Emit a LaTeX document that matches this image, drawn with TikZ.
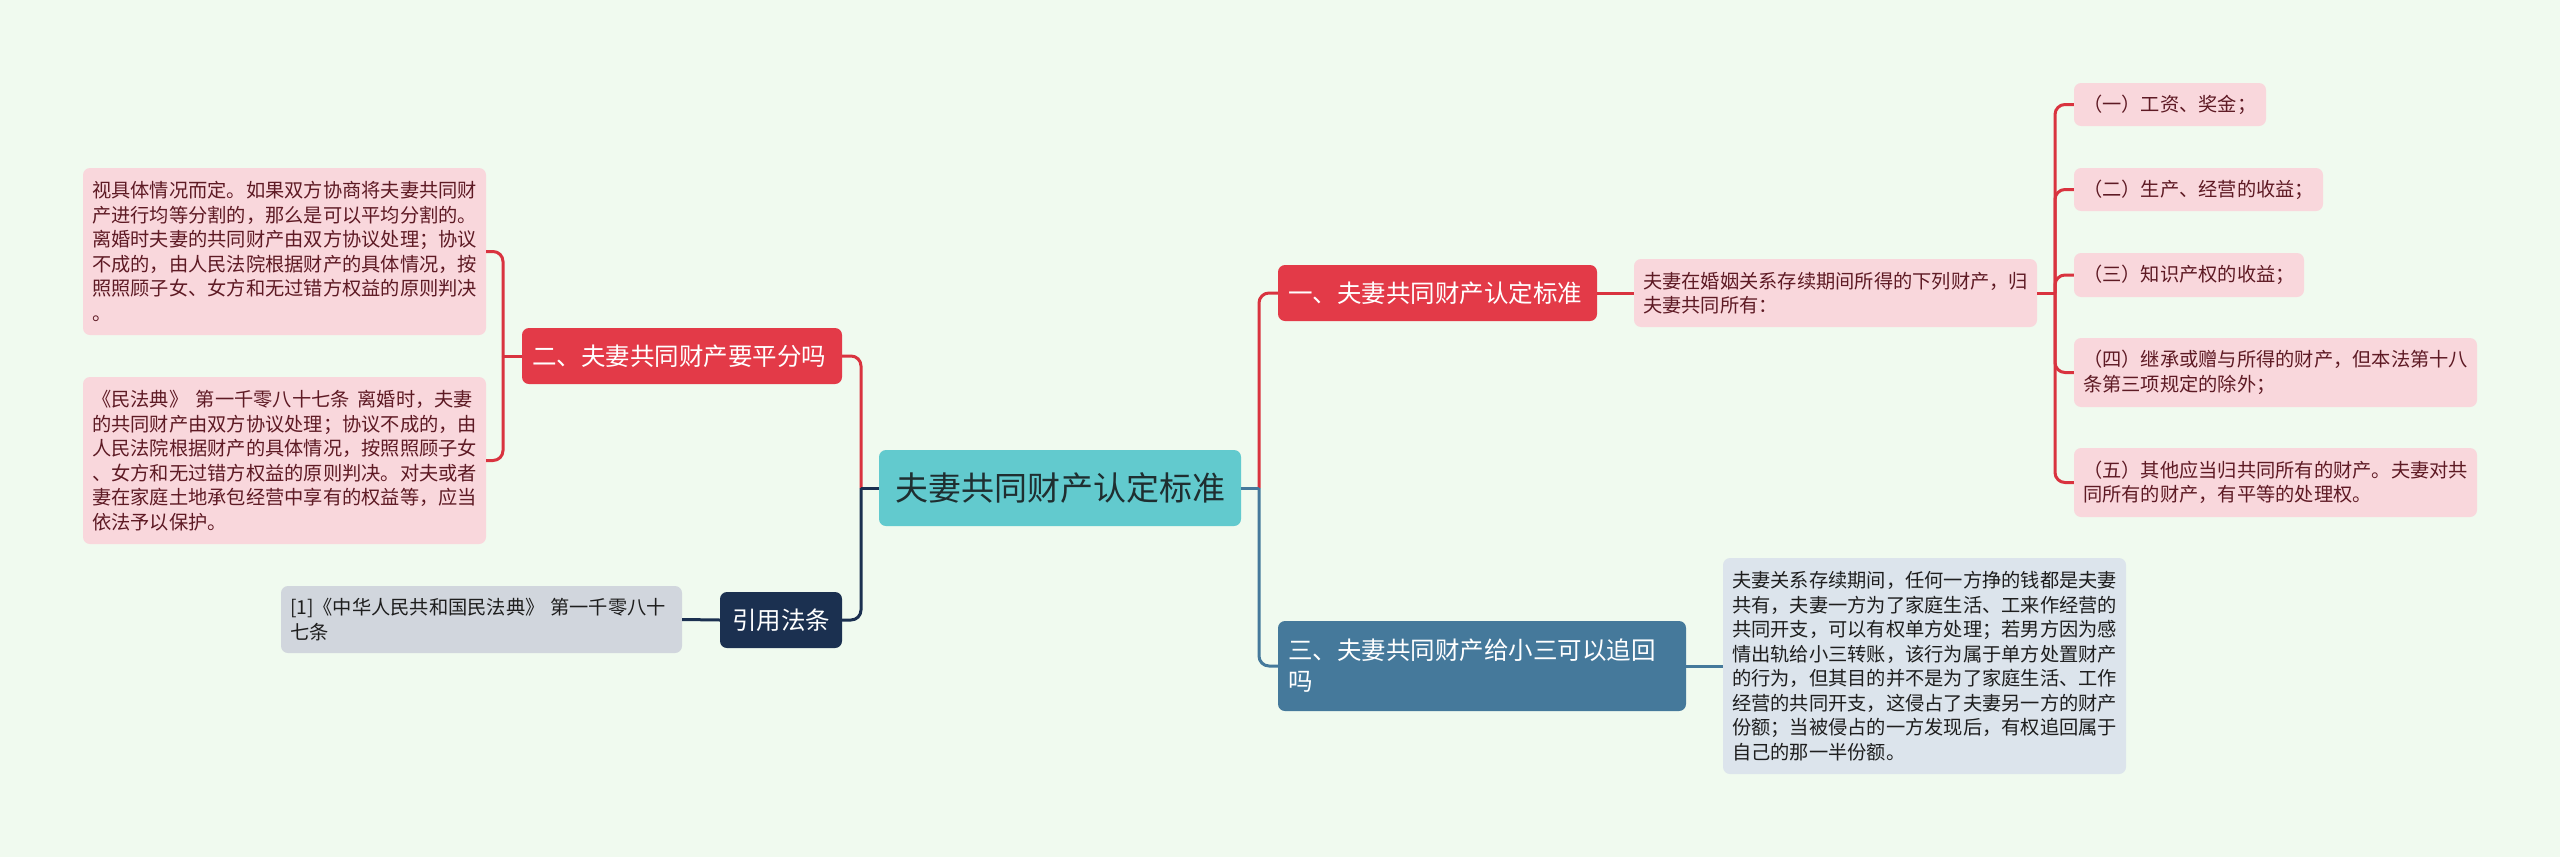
\documentclass[tikz,border=0pt]{standalone}
\usepackage{fontspec}
\setmainfont{Noto Sans CJK SC}
\definecolor{bgc}{HTML}{F0FAEF}
\definecolor{redc}{HTML}{E33A48}
\definecolor{redl}{HTML}{D9333F}
\definecolor{navyc}{HTML}{1B3050}
\definecolor{bluec}{HTML}{45799B}
\definecolor{rootf}{HTML}{62CACE}
\definecolor{roott}{HTML}{1F2E30}
\definecolor{pinkf}{HTML}{F9D7DC}
\definecolor{pinkt}{HTML}{5E1A24}
\definecolor{grayf}{HTML}{D1D6DD}
\definecolor{bluef}{HTML}{DCE4EC}
\definecolor{darkt}{HTML}{1E1E1E}
\tikzset{
  box/.style={rounded corners=7pt, inner sep=0pt, align=left},
  rootbox/.style={box, fill=rootf, text=roott, align=center, font=\fontsize{33pt}{38pt}\selectfont},
  mainbox/.style={box, text=white, font=\fontsize{24.5pt}{31pt}\selectfont},
  redbox/.style={mainbox, fill=redc},
  bluebox/.style={mainbox, fill=bluec},
  navybox/.style={mainbox, fill=navyc, align=center},
  leafbase/.style={box, font=\fontsize{19.25pt}{24.5pt}\selectfont},
  pleaf/.style={leafbase, fill=pinkf, text=pinkt},
  gleaf/.style={leafbase, fill=grayf, text=darkt},
  bleaf/.style={leafbase, fill=bluef, text=darkt},
  conn/.style={line width=3pt, rounded corners=10pt},
  cred/.style={conn, draw=redl},
  cnavy/.style={conn, draw=navyc},
  cblue/.style={conn, draw=bluec},
}
\begin{document}
\begin{tikzpicture}[x=1pt,y=-1pt]
\fill[bgc] (0,0) rectangle (2560,857);
\useasboundingbox (0,0) rectangle (2560,857);

% root and main branches
\node[rootbox, minimum width=362pt, minimum height=76pt] (root) at (1060,488) {夫妻共同财产认定标准};
\node[redbox, minimum width=319pt, minimum height=56pt, text width=299pt] (b1) at (1437.5,293) {一、夫妻共同财产认定标准};
\node[redbox, minimum width=320pt, minimum height=56pt, text width=300pt] (b2) at (682,356) {二、夫妻共同财产要平分吗};
\node[bluebox, minimum width=408pt, minimum height=90pt, text width=388pt] (b3) at (1482,666) {三、夫妻共同财产给小三可以追回\\吗};
\node[navybox, minimum width=122pt, minimum height=56pt] (ref) at (781,620) {引用法条};

% leaves
\node[pleaf, minimum width=403pt, minimum height=167pt, text width=385pt] (l1) at (284.5,251.5) {视具体情况而定。如果双方协商将夫妻共同财\\产进行均等分割的，那么是可以平均分割的。\\离婚时夫妻的共同财产由双方协议处理；协议\\不成的，由人民法院根据财产的具体情况，按\\照照顾子女、女方和无过错方权益的原则判决\\。};
\node[pleaf, minimum width=403pt, minimum height=167pt, text width=385pt] (l2) at (284.5,460.5) {《民法典》\hspace{0.4em}第一千零八十七条\hspace{0.4em}离婚时，夫妻\\的共同财产由双方协议处理；协议不成的，由\\人民法院根据财产的具体情况，按照照顾子女\\、女方和无过错方权益的原则判决。对夫或者\\妻在家庭土地承包经营中享有的权益等，应当\\依法予以保护。};
\node[gleaf, minimum width=401pt, minimum height=67pt, text width=383pt] (g1) at (481.5,619.5) {[1]《中华人民共和国民法典》\hspace{0.3em}第一千零八十\\七条};
\node[pleaf, minimum width=403pt, minimum height=68pt, text width=385pt] (r0) at (1835.5,293) {夫妻在婚姻关系存续期间所得的下列财产，归\\夫妻共同所有：};
\node[pleaf, minimum width=192pt, minimum height=43pt, text width=174pt] (i1) at (2170,104.5) {（一）工资、奖金；};
\node[pleaf, minimum width=249pt, minimum height=43pt, text width=231pt] (i2) at (2198.5,189.5) {（二）生产、经营的收益；};
\node[pleaf, minimum width=230pt, minimum height=44pt, text width=212pt] (i3) at (2189,275) {（三）知识产权的收益；};
\node[pleaf, minimum width=403pt, minimum height=69pt, text width=385pt] (i4) at (2275.5,372.5) {（四）继承或赠与所得的财产，但本法第十八\\条第三项规定的除外；};
\node[pleaf, minimum width=403pt, minimum height=69pt, text width=385pt] (i5) at (2275.5,482.5) {（五）其他应当归共同所有的财产。夫妻对共\\同所有的财产，有平等的处理权。};
\node[bleaf, minimum width=403pt, minimum height=216pt, text width=385pt] (bl) at (1924.5,666) {夫妻关系存续期间，任何一方挣的钱都是夫妻\\共有，夫妻一方为了家庭生活、工来作经营的\\共同开支，可以有权单方处理；若男方因为感\\情出轨给小三转账，该行为属于单方处置财产\\的行为，但其目的并不是为了家庭生活、工作\\经营的共同开支，这侵占了夫妻另一方的财产\\份额；当被侵占的一方发现后，有权追回属于\\自己的那一半份额。};

% junction coordinates
\coordinate (jR) at (1259,488);
\coordinate (jL) at (861,488);
\coordinate (jR2) at (2055,293);
\coordinate (jL2) at (503,356);

% connectors right of root
\draw[cred] (jR) |- (b1.west);
\draw[cblue] (jR) |- (b3.west);
\draw[cblue] (root.east) -- (jR);
% connectors left of root
\draw[cred] (jL) |- (b2.east);
\draw[cnavy] (jL) |- (ref.east);
\draw[cnavy] (root.west) -- (jL);
% branch to leaves
\draw[cred] (b1.east) -- (r0.west);
\draw[cred] (r0.east) -- (jR2);
\draw[cred] (jR2) |- (i1.west);
\draw[cred] (jR2) |- (i2.west);
\draw[cred] (jR2) |- (i3.west);
\draw[cred] (jR2) |- (i4.west);
\draw[cred] (jR2) |- (i5.west);
\draw[cred] (b2.west) -- (jL2);
\draw[cred] (jL2) |- (l1.east);
\draw[cred] (jL2) |- (l2.east);
\draw[cnavy] (ref.west) -- (g1.east);
\draw[cblue] (b3.east) -- (bl.west);
\end{tikzpicture}
\end{document}
